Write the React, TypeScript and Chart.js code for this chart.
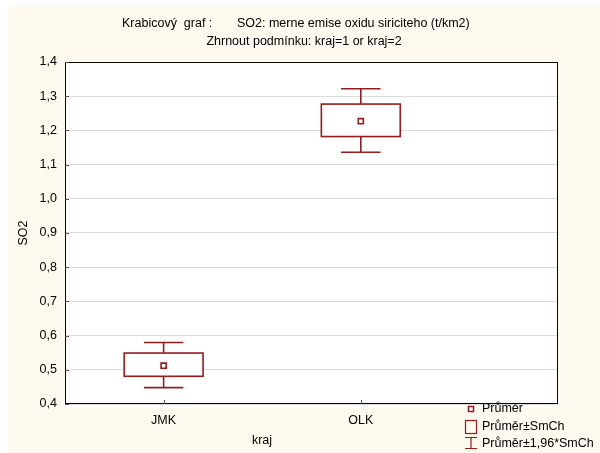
import React, { useEffect, useRef } from 'react';
import { Chart, registerables } from 'chart.js';

Chart.register(...registerables);

const categories = ['JMK', 'OLK'];
const categoryPositions = [1, 2];
const means = [0.512, 1.227];
const boxLow = [0.481, 1.182];
const boxHigh = [0.549, 1.277];
const whiskerLow = [0.448, 1.136];
const whiskerHigh = [0.58, 1.322];
const yTicks = [0.4, 0.5, 0.6, 0.7, 0.8, 0.9, 1.0, 1.1, 1.2, 1.3, 1.4];

const titleLeft = 'Krabicový  graf :';
const titleRight = 'SO2: merne emise oxidu siriciteho (t/km2)';
const subtitle = 'Zhrnout podmínku: kraj=1 or kraj=2';
const yTitle = 'SO2';
const xTitle = 'kraj';
const legendLabels = ['Průměr', 'Průměr±SmCh', 'Průměr±1,96*SmCh'];

const FONT = "'Liberation Sans', Arial, sans-serif";
const FONT_SIZE = 12.5;
const CREAM = '#FFFAF0';
const RED = '#941c1c';
const BOX_HALF = 0.2;
const CAP_HALF = 0.1;

const boxPlugin = {
  id: 'boxPlotCustom',
  beforeDraw(chart: any) {
    const { ctx, chartArea: a, width, height } = chart;
    ctx.save();
    ctx.fillStyle = '#ffffff';
    ctx.fillRect(0, 0, width, height);
    ctx.fillStyle = CREAM;
    ctx.fillRect(8, 5, width - 8, height - 5);
    ctx.fillStyle = '#ffffff';
    ctx.fillRect(a.left, a.top, a.right - a.left, a.bottom - a.top);
    ctx.restore();
  },
  beforeDatasetsDraw(chart: any) {
    const { ctx, chartArea: a, scales } = chart;
    const xs = scales.x;
    const ys = scales.y;
    ctx.save();
    ctx.strokeStyle = '#000';
    ctx.lineWidth = 1;
    ctx.strokeRect(Math.round(a.left) + 0.5, Math.round(a.top) + 0.5, Math.round(a.right - a.left) - 1, Math.round(a.bottom - a.top) - 1);
    ctx.strokeStyle = '#555';
    ctx.beginPath();
    yTicks.forEach((v) => {
      const y = Math.round(ys.getPixelForValue(v)) + 0.5;
      ctx.moveTo(a.left, y);
      ctx.lineTo(a.left + 4, y);
    });
    categoryPositions.forEach((v) => {
      const x = Math.round(xs.getPixelForValue(v)) + 0.5;
      ctx.moveTo(x, a.bottom);
      ctx.lineTo(x, a.bottom - 4);
    });
    ctx.stroke();
    ctx.strokeStyle = RED;
    ctx.lineWidth = 1.6;
    categoryPositions.forEach((pos, i) => {
      const xc = xs.getPixelForValue(pos);
      const xl = xs.getPixelForValue(pos - BOX_HALF);
      const xr = xs.getPixelForValue(pos + BOX_HALF);
      const cl = xs.getPixelForValue(pos - CAP_HALF);
      const cr = xs.getPixelForValue(pos + CAP_HALF);
      const yTop = ys.getPixelForValue(boxHigh[i]);
      const yBot = ys.getPixelForValue(boxLow[i]);
      const wTop = ys.getPixelForValue(whiskerHigh[i]);
      const wBot = ys.getPixelForValue(whiskerLow[i]);
      ctx.beginPath();
      ctx.moveTo(xc, yTop);
      ctx.lineTo(xc, wTop);
      ctx.moveTo(cl, wTop);
      ctx.lineTo(cr, wTop);
      ctx.moveTo(xc, yBot);
      ctx.lineTo(xc, wBot);
      ctx.moveTo(cl, wBot);
      ctx.lineTo(cr, wBot);
      ctx.stroke();
      ctx.fillStyle = '#fff';
      ctx.fillRect(xl, yTop, xr - xl, yBot - yTop);
      ctx.strokeRect(xl, yTop, xr - xl, yBot - yTop);
    });
    ctx.restore();
  },
  afterDraw(chart: any) {
    const { ctx, chartArea: a } = chart;
    ctx.save();
    ctx.fillStyle = '#000';
    ctx.font = `${FONT_SIZE}px ${FONT}`;
    ctx.textBaseline = 'middle';
    ctx.textAlign = 'left';
    ctx.fillText(titleLeft, 122, 24);
    ctx.fillText(titleRight, 237, 24);
    ctx.textAlign = 'center';
    ctx.fillText(subtitle, 304, 42);
    ctx.fillText(xTitle, 262, 441);
    ctx.save();
    ctx.translate(24, (a.top + a.bottom) / 2);
    ctx.rotate(-Math.PI / 2);
    ctx.fillText(yTitle, 0, 0);
    ctx.restore();
    ctx.textAlign = 'left';
    ctx.fillText(legendLabels[0], 482, 409);
    ctx.fillText(legendLabels[1], 482, 427);
    ctx.fillText(legendLabels[2], 482, 444);
    ctx.strokeStyle = RED;
    ctx.lineWidth = 1.5;
    ctx.strokeRect(468.5, 406.5, 5, 5);
    ctx.lineWidth = 1.2;
    ctx.strokeRect(465.5, 420.5, 11, 13);
    ctx.beginPath();
    ctx.moveTo(465, 437.5);
    ctx.lineTo(477, 437.5);
    ctx.moveTo(471, 437.5);
    ctx.lineTo(471, 448.5);
    ctx.moveTo(465, 448.5);
    ctx.lineTo(477, 448.5);
    ctx.stroke();
    ctx.restore();
  },
};

export default function App() {
  const ref = useRef<HTMLCanvasElement | null>(null);

  useEffect(() => {
    if (!ref.current) return;
    const font = { family: FONT, size: FONT_SIZE };
    const chart = new Chart(ref.current, {
      type: 'scatter',
      data: {
        datasets: [
          {
            label: legendLabels[0],
            data: categoryPositions.map((x, i) => ({ x, y: means[i] })),
            pointStyle: 'rect',
            pointRadius: 3.6,
            pointHoverRadius: 3.6,
            borderColor: RED,
            backgroundColor: '#ffffff',
            borderWidth: 1.6,
          },
        ],
      },
      options: {
        animation: false,
        responsive: false,
        maintainAspectRatio: false,
        devicePixelRatio: 1,
        layout: { padding: { left: 8, top: 62, right: 42, bottom: 0 } },
        plugins: {
          legend: { display: false },
          title: { display: false },
          tooltip: { enabled: false },
        },
        scales: {
          x: {
            type: 'linear',
            min: 0.5,
            max: 3,
            afterBuildTicks: (s: any) => {
              s.ticks = categoryPositions.map((v) => ({ value: v }));
            },
            afterFit: (s: any) => {
              s.height = 49;
            },
            ticks: {
              callback: (v: any) => categories[categoryPositions.indexOf(Number(v))] ?? '',
              color: '#000',
              font,
              padding: 9,
              maxRotation: 0,
              autoSkip: false,
            },
            grid: { display: false, drawTicks: false },
            border: { display: false },
          },
          y: {
            type: 'linear',
            min: 0.4,
            max: 1.4,
            afterBuildTicks: (s: any) => {
              s.ticks = yTicks.map((v) => ({ value: v }));
            },
            afterFit: (s: any) => {
              s.width = 57;
            },
            ticks: {
              callback: (v: any) => Number(v).toFixed(1).replace('.', ','),
              color: '#000',
              font,
              padding: 8,
              autoSkip: false,
            },
            grid: { color: '#dcdcdc', drawTicks: false, lineWidth: 1 },
            border: { display: false },
          },
        },
      },
      plugins: [boxPlugin],
    } as any);
    return () => chart.destroy();
  }, []);

  return (
    <div style={{ position: 'fixed', left: 0, top: 0, width: 600, height: 453 }}>
      <canvas ref={ref} width={600} height={453} style={{ display: 'block', width: 600, height: 453 }} />
    </div>
  );
}
